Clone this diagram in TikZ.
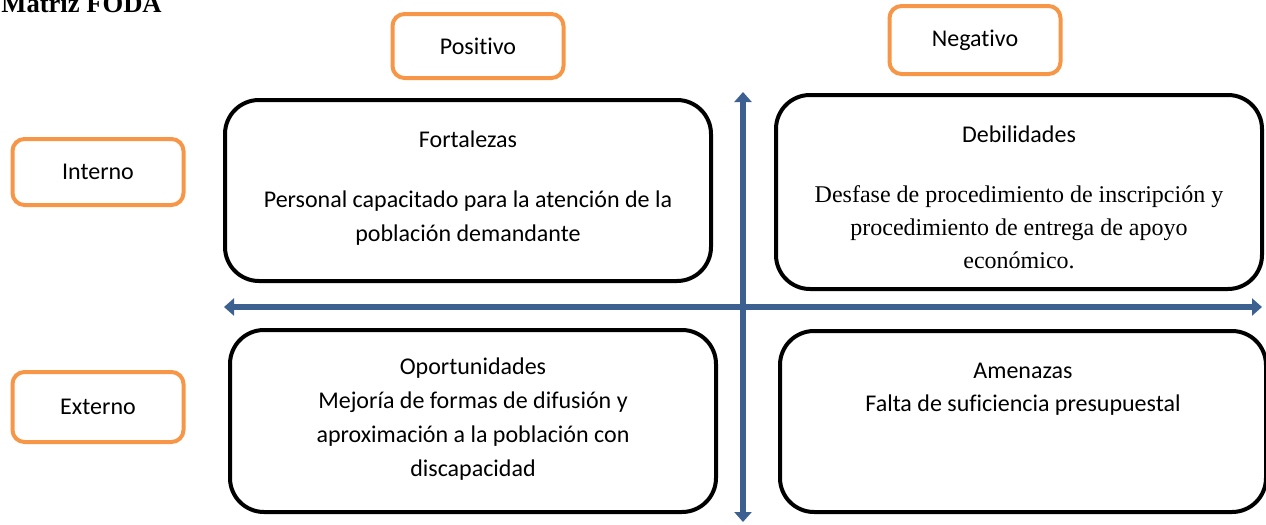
\documentclass[tikz,border=0pt]{standalone}
\usepackage{fontspec}
\setmainfont[Ligatures=NoCommon]{Carlito}
\newfontfamily\timesfont{Liberation Serif}
\usetikzlibrary{positioning,arrows.meta}
\definecolor{naranja}{HTML}{F79646}
\definecolor{azuleje}{HTML}{3C6191}
\tikzset{
    cuadro/.style={draw, line width=2pt, rounded corners=17pt,
        minimum width=243pt, minimum height=90.5pt},
    etiqueta/.style={draw=naranja, line width=2pt, rounded corners=6pt,
        minimum width=85.5pt, minimum height=32pt,
        font=\fontsize{12}{14}\selectfont},
    titulo/.style={inner sep=0pt, font=\fontsize{12}{14}\selectfont},
    cuerpo/.style={inner sep=0pt, align=center,
        font=\fontsize{12}{17}\selectfont},
    cuerpotimes/.style={inner sep=0pt, align=center,
        font=\timesfont\fontsize{12}{16.5}\selectfont},
    eje/.style={line width=3.3pt, draw=azuleje,
        {Triangle[width=8.5pt,length=5pt]}-{Triangle[width=8.5pt,length=5pt]}}
}
\begin{document}
\begin{tikzpicture}[x=0.5pt, y=-0.5pt]
    \useasboundingbox (0,0) rectangle (1266,525);

    % titulo (cortado arriba)
    \node[anchor=base west, inner sep=0pt,
        font=\timesfont\bfseries\fontsize{13.3}{15}\selectfont] (matriz) at (1,12) {Matriz FODA};

    % etiquetas naranjas
    \node[etiqueta] (pos) at (478,46) {Positivo};
    \node[etiqueta, minimum height=34pt] (neg) at (975,40) {Negativo};
    \node[etiqueta, minimum height=33pt] (int) at (98,172) {Interno};
    \node[etiqueta, minimum height=35pt] (ext) at (98,407) {Externo};

    % cuadrantes
    \node[cuadro] (fort) at (468,190.5) {};
    \node[cuadro, minimum height=97pt] (debil) at (1019,192) {};
    \node[cuadro, minimum height=91pt] (oport) at (473,421) {};
    \node[cuadro] (amen) at (1023,421.5) {};

    % ejes
    \coordinate (ejeN) at (743,92);
    \coordinate (ejeS) at (743,522);
    \coordinate (ejeO) at (224,307);
    \coordinate (ejeE) at (1262,307);
    \draw[eje] (ejeS) -- (ejeN);
    \draw[eje] (ejeO) -- (ejeE);

    % textos
    \node[titulo, below=16pt of fort.north] (fortT) {Fortalezas};
    \node[cuerpo, below=21.5pt of fortT] (fortC)
        {Personal capacitado para la atención de la\\ población demandante};

    \node[titulo, below=16pt of debil.north] (debilT) {Debilidades};
    \node[cuerpotimes, below=21.5pt of debilT] (debilC)
        {Desfase de procedimiento de inscripción y\\ procedimiento de entrega de apoyo\\ económico.};

    \node[titulo, below=14.5pt of oport.north] (oportT) {Oportunidades};
    \node[cuerpo, below=6.5pt of oportT] (oportC)
        {Mejoría de formas de difusión y\\ aproximación a la población con\\ discapacidad};

    \node[titulo, below=17pt of amen.north] (amenT) {Amenazas};
    \node[cuerpo, below=7.5pt of amenT] (amenC) {Falta de suficiencia presupuestal};
\end{tikzpicture}
\end{document}
